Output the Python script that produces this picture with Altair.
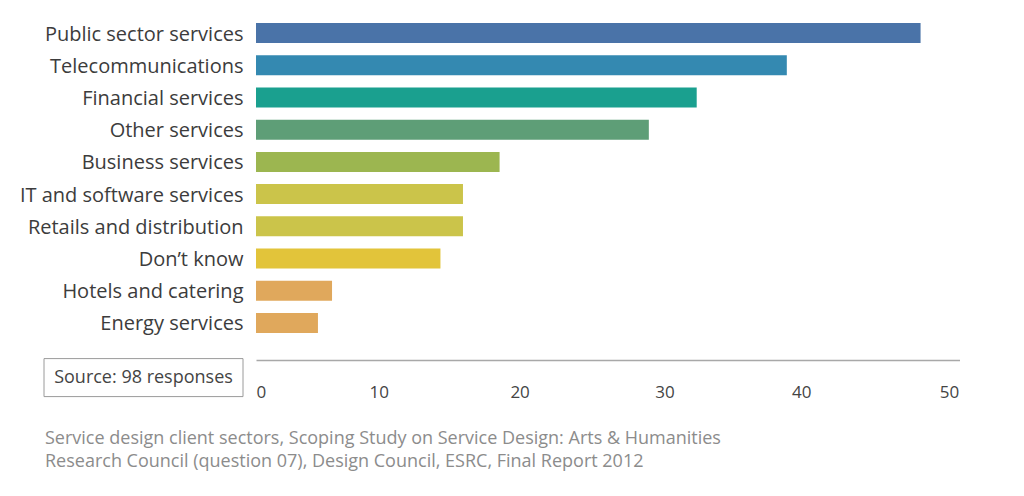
import altair as alt
import pandas as pd

categories = [
    "Public sector services",
    "Telecommunications",
    "Financial services",
    "Other services",
    "Business services",
    "IT and software services",
    "Retails and distribution",
    "Don\u2019t know",
    "Hotels and catering",
    "Energy services",
]
values = [47.2, 37.7, 31.3, 27.9, 17.3, 14.7, 14.7, 13.1, 5.4, 4.4]
colors = [
    "#4A73A8", "#3489B1", "#1AA08F", "#5E9E77", "#9CB650",
    "#CBC44A", "#CBC44A", "#E2C43A", "#E0A85C", "#E0A85C",
]
x_ticks = [0, 10, 20, 30, 40, 50]
source_note = "Source: 98 responses"
caption = [
    "Service design client sectors, Scoping Study on Service Design: Arts & Humanities",
    "Research Council (question 07), Design Council, ESRC,  Final Report 2012",
]

df = pd.DataFrame({"sector": categories, "count": values})

FONT = "Open Sans"

bars = alt.Chart(df).mark_bar().encode(
    x=alt.X(
        "count:Q",
        scale=alt.Scale(domain=[0, 50], nice=False, zero=True),
        axis=alt.Axis(
            values=x_ticks,
            title=None,
            grid=False,
            ticks=False,
            offset=21,
            domainColor="#a8a8a8",
            domainWidth=1.5,
            labelFont=FONT,
            labelFontSize=17,
            labelColor="#444444",
            labelBaseline="middle",
            labelPadding=32,
            labelAlign=alt.ExprRef("datum.value == 0 ? 'left' : 'center'"),
            labelOffset=alt.ExprRef(
                "datum.value == 0 ? 0 : (datum.value == 50 ? -11 : (datum.value == 30 ? -14 : -18))"
            ),
            labelFlush=False,
            labelOverlap=False,
        ),
    ),
    y=alt.Y(
        "sector:N",
        sort=categories,
        scale=alt.Scale(paddingInner=0.38, paddingOuter=0.19),
        axis=alt.Axis(
            title=None,
            ticks=False,
            domain=False,
            labelFont=FONT,
            labelFontSize=20,
            labelColor="#3c3c3c",
            labelPadding=13,
            labelLimit=400,
            labelOffset=1.5,
            minExtent=248,
            maxExtent=248,
        ),
    ),
    color=alt.Color(
        "sector:N",
        scale=alt.Scale(domain=categories, range=colors),
        legend=None,
    ),
)

box = alt.Chart(pd.DataFrame({"t": [source_note]})).mark_rect(
    fill="white", stroke="#9a9a9a", strokeWidth=1
).encode(
    x=alt.value(-212), x2=alt.value(-13), y=alt.value(341.6), y2=alt.value(379.6)
)

box_text = alt.Chart(pd.DataFrame({"t": [source_note]})).mark_text(
    font=FONT, fontSize=18, color="#444444", align="center", baseline="middle"
).encode(
    text="t:N", x=alt.value(-112.5), y=alt.value(361)
)

chart = alt.layer(bars, box, box_text).properties(
    width=704,
    height=322,
    padding={"left": 0, "top": 9, "right": 0, "bottom": 12},
    title=alt.TitleParams(
        text=caption,
        orient="bottom",
        anchor="start",
        frame="bounds",
        dx=37,
        offset=30,
        font=FONT,
        fontSize=18,
        fontWeight="normal",
        color="#8c8c8c",
        lineHeight=23,
        baseline="top",
    ),
).configure_view(stroke=None)

chart.save("out.html", embed_options={"renderer": "svg", "actions": False})
